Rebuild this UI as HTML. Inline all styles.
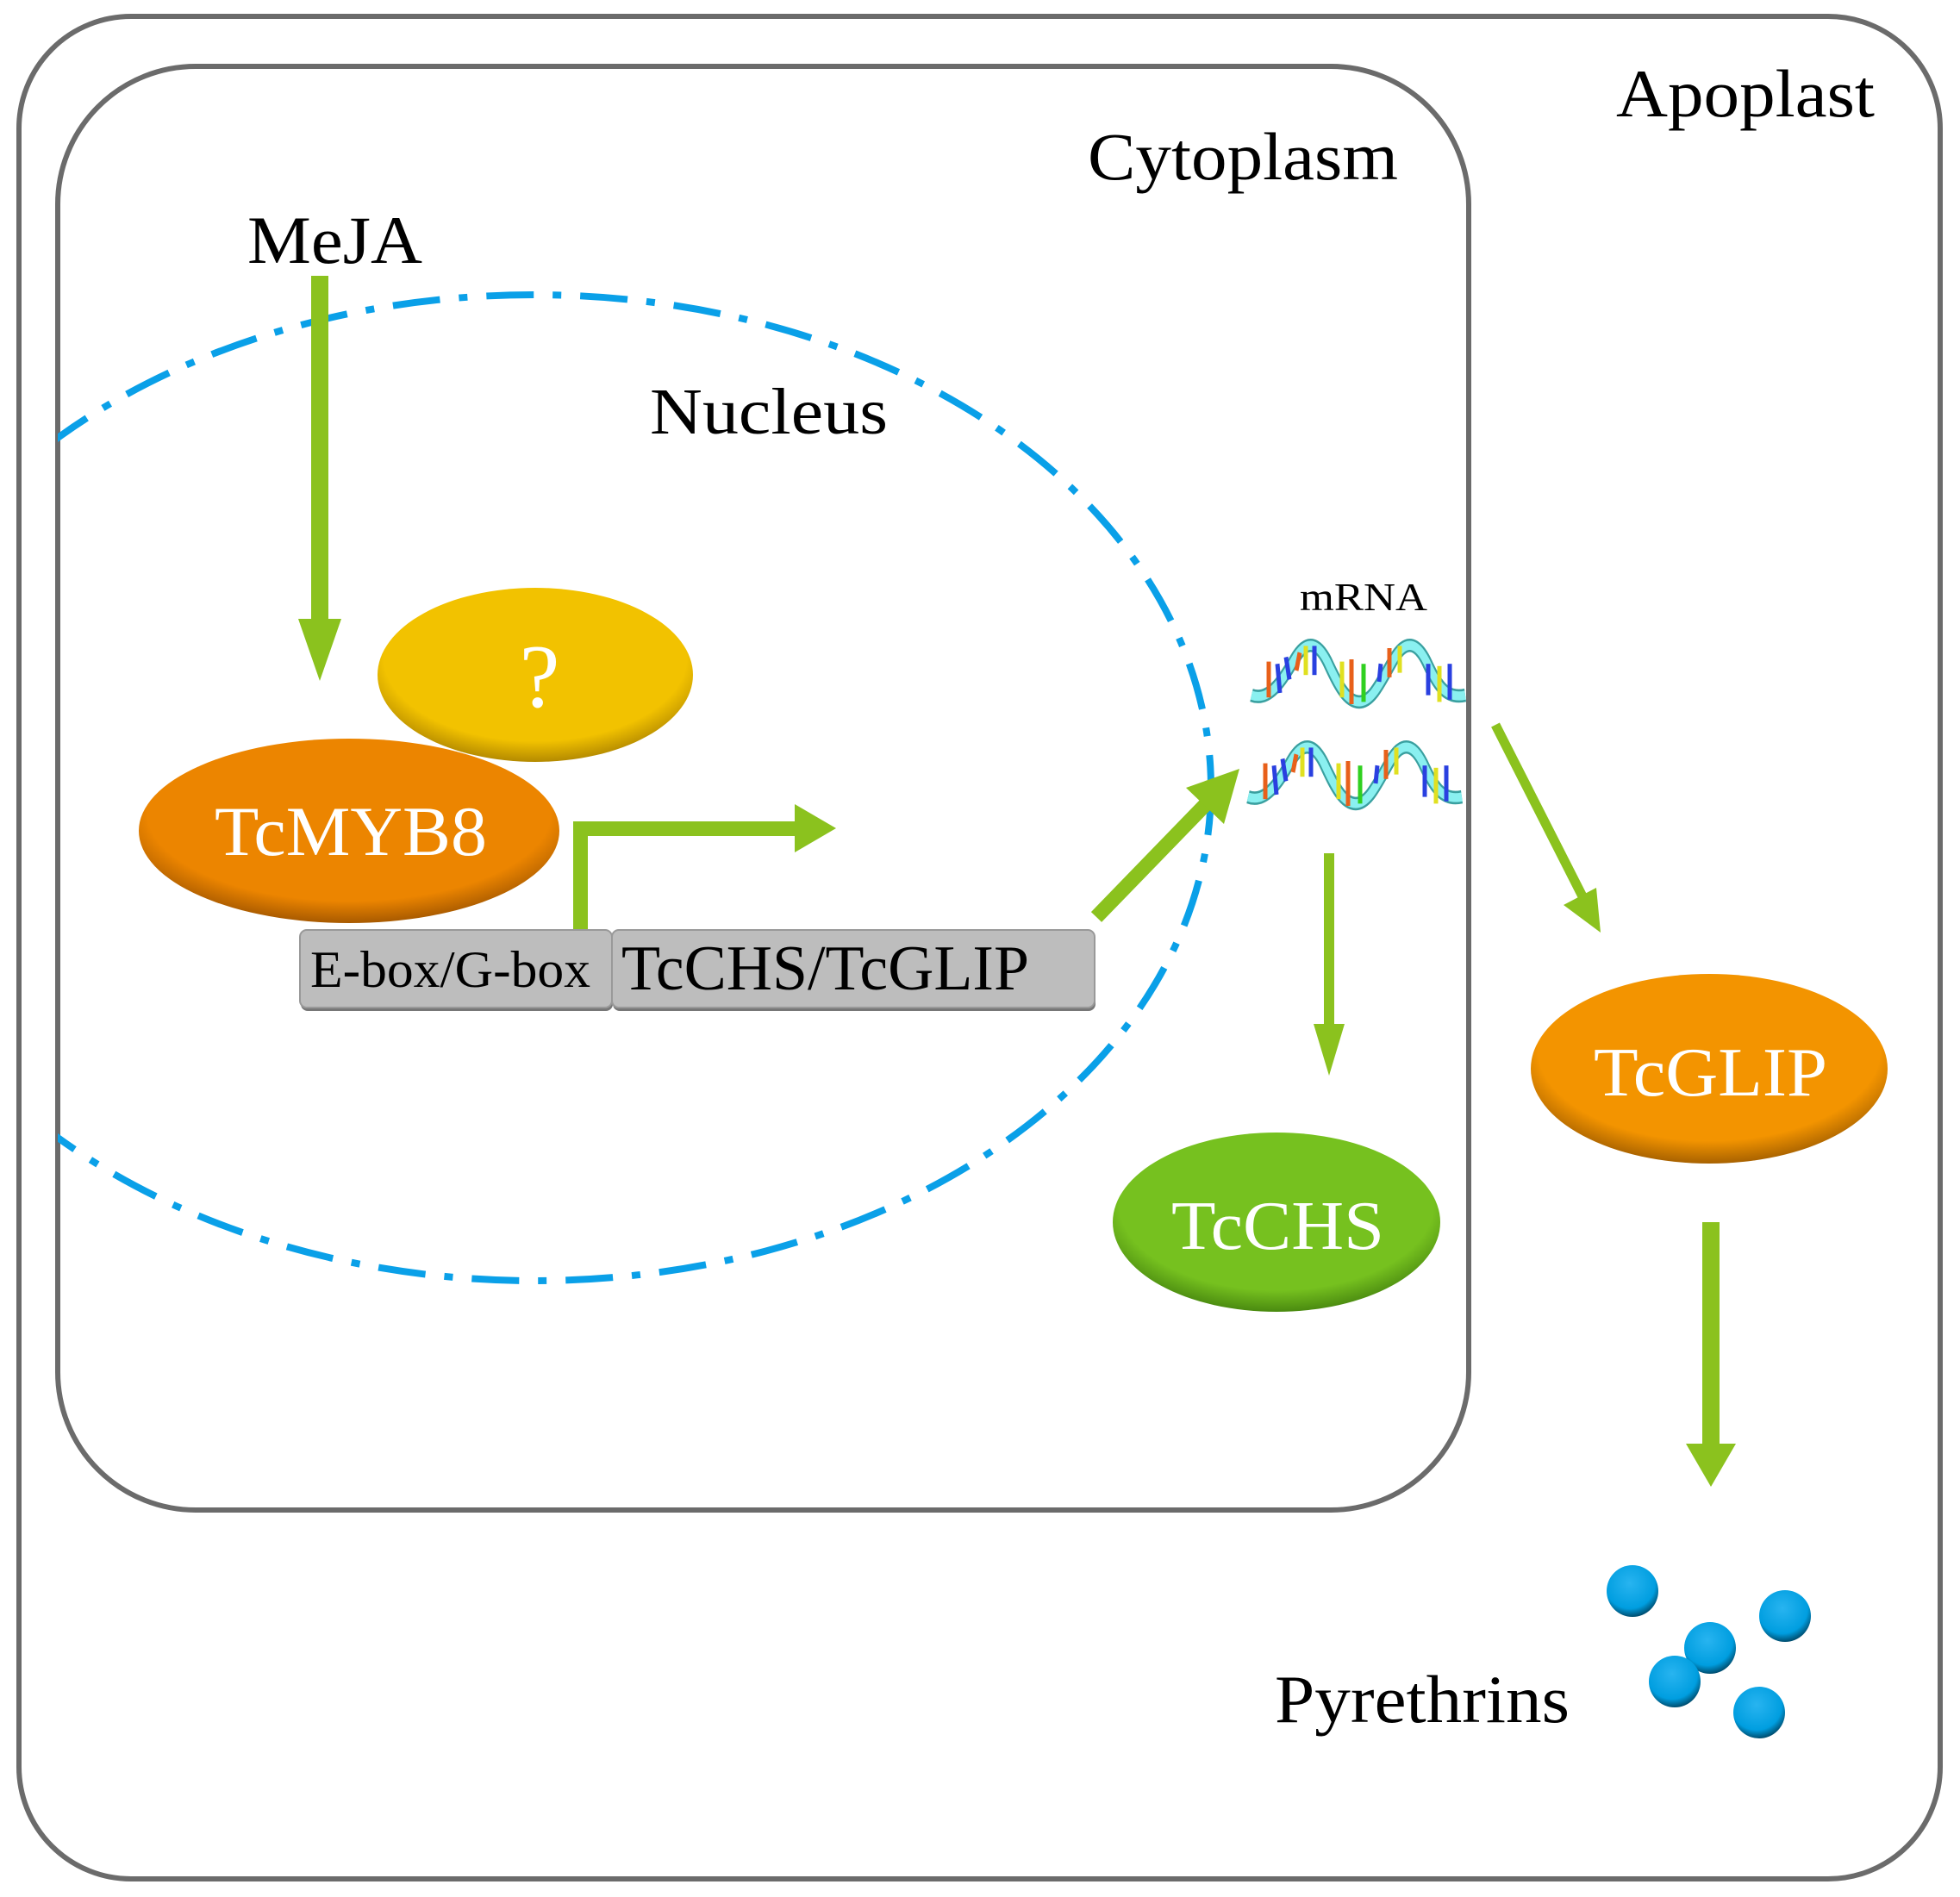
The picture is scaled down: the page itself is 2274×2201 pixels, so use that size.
<!DOCTYPE html>
<html><head><meta charset="utf-8"><style>
html,body{margin:0;padding:0;background:#fff}
svg{display:block}
text{font-family:"Liberation Serif",serif}
</style></head><body>
<svg width="2274" height="2201" viewBox="0 0 2274 2201" xmlns="http://www.w3.org/2000/svg">
<defs>
<radialGradient id="gy" cx="50%" cy="40%" r="60%"><stop offset="80%" stop-color="#f2c200"/><stop offset="100%" stop-color="#b48a00"/></radialGradient>
<radialGradient id="go" cx="50%" cy="40%" r="60%"><stop offset="80%" stop-color="#ec8500"/><stop offset="100%" stop-color="#a85a00"/></radialGradient>
<radialGradient id="go2" cx="50%" cy="40%" r="60%"><stop offset="80%" stop-color="#f39400"/><stop offset="100%" stop-color="#a86200"/></radialGradient>
<radialGradient id="gg" cx="50%" cy="40%" r="60%"><stop offset="80%" stop-color="#76c11f"/><stop offset="100%" stop-color="#4a8a10"/></radialGradient>
<radialGradient id="gb" cx="45%" cy="35%" r="65%"><stop offset="0%" stop-color="#28b4f0"/><stop offset="75%" stop-color="#009ee0"/><stop offset="100%" stop-color="#004e70"/></radialGradient>
<clipPath id="cc"><rect x="67" y="77" width="1637" height="1675" rx="160"/></clipPath>
<g id="helix">
  <path d="M0,42 C20,48 35,30 50,10 C62,-6 75,-8 88,12 C100,32 110,48 125,48 C140,48 150,30 165,10 C177,-6 190,-8 203,12 C215,32 225,46 248,42" fill="none" stroke="#3aa0a0" stroke-width="12"/>
  <path d="M0,42 C20,48 35,30 50,10 C62,-6 75,-8 88,12 C100,32 110,48 125,48 C140,48 150,30 165,10 C177,-6 190,-8 203,12 C215,32 225,46 248,42" fill="none" stroke="#8af0f0" stroke-width="8"/>
  <g stroke-width="5">
  <line x1="20" y1="44" x2="20" y2="12" stroke="#e8601a"/>
  <line x1="33" y1="40" x2="30" y2="14" stroke="#2a40e0"/>
  <line x1="44" y1="28" x2="40" y2="8" stroke="#2a40e0"/>
  <line x1="52" y1="20" x2="56" y2="4" stroke="#e8601a"/>
  <line x1="63" y1="24" x2="63" y2="-2" stroke="#e0e020"/>
  <line x1="73" y1="24" x2="73" y2="-2" stroke="#2a40e0"/>
  <line x1="105" y1="44" x2="105" y2="12" stroke="#e0e020"/>
  <line x1="116" y1="50" x2="116" y2="10" stroke="#e8601a"/>
  <line x1="130" y1="48" x2="130" y2="14" stroke="#30d020"/>
  <line x1="148" y1="30" x2="150" y2="14" stroke="#2a40e0"/>
  <line x1="160" y1="26" x2="160" y2="0" stroke="#e8601a"/>
  <line x1="172" y1="22" x2="172" y2="-2" stroke="#e0e020"/>
  <line x1="205" y1="42" x2="205" y2="14" stroke="#2a40e0"/>
  <line x1="218" y1="48" x2="218" y2="16" stroke="#e0e020"/>
  <line x1="230" y1="46" x2="230" y2="14" stroke="#2a40e0"/>
  </g>
</g>
</defs>

<rect x="22" y="19" width="2229" height="2161" rx="130" fill="none" stroke="#6b6b6b" stroke-width="6"/>
<rect x="67" y="77" width="1637" height="1675" rx="160" fill="none" stroke="#6b6b6b" stroke-width="6"/>

<text x="1875" y="135" font-size="78" textLength="300" lengthAdjust="spacingAndGlyphs">Apoplast</text>
<text x="1262" y="208" font-size="78" textLength="360" lengthAdjust="spacingAndGlyphs">Cytoplasm</text>
<text x="287" y="305" font-size="78" textLength="203" lengthAdjust="spacingAndGlyphs">MeJA</text>
<text x="754" y="503" font-size="76" textLength="276" lengthAdjust="spacingAndGlyphs">Nucleus</text>

<g clip-path="url(#cc)">
<ellipse cx="620" cy="914" rx="785" ry="572" fill="none" stroke="#0aa0e8" stroke-width="8" stroke-dasharray="55 22 10 22"/>
</g>

<!-- MeJA arrow -->
<rect x="361" y="320" width="20" height="400" fill="#8bc21e"/>
<polygon points="346,718 396,718 371,790" fill="#8bc21e"/>

<ellipse cx="621" cy="783" rx="183" ry="101" fill="url(#gy)"/>
<text x="626" y="820" font-size="105" fill="#fff" text-anchor="middle">?</text>

<ellipse cx="405" cy="964" rx="244" ry="107" fill="url(#go)"/>
<text x="249" y="992" font-size="82" fill="#fff" textLength="316" lengthAdjust="spacingAndGlyphs">TcMYB8</text>

<!-- bent arrow -->
<rect x="665" y="953" width="17" height="128" fill="#8bc21e"/>
<rect x="665" y="953" width="262" height="17" fill="#8bc21e"/>
<polygon points="922,933 970,961 922,989" fill="#8bc21e"/>

<!-- gene bar -->
<rect x="349" y="1083" width="362" height="90" rx="8" fill="#777"/>
<rect x="711" y="1083" width="560" height="90" rx="8" fill="#777"/>
<rect x="348" y="1079" width="362" height="90" rx="8" fill="#bdbdbd" stroke="#999" stroke-width="2"/>
<rect x="710" y="1079" width="560" height="90" rx="8" fill="#bdbdbd" stroke="#999" stroke-width="2"/>
<text x="360" y="1145" font-size="60" textLength="325" lengthAdjust="spacingAndGlyphs">E-box/G-box</text>
<text x="721" y="1148" font-size="74" textLength="473" lengthAdjust="spacingAndGlyphs">TcCHS/TcGLIP</text>

<!-- diagonal arrow to mRNA -->
<line x1="1272" y1="1064" x2="1400" y2="932" stroke="#8bc21e" stroke-width="17"/>
<polygon points="1376,914 1420,956 1438,892" fill="#8bc21e"/>

<text x="1508" y="708" font-size="46" textLength="148" lengthAdjust="spacingAndGlyphs">mRNA</text>
<use href="#helix" transform="translate(1452,752) scale(1,1.3)"/>
<use href="#helix" transform="translate(1448,870) scale(1,1.3)"/>

<!-- arrow to TcCHS -->
<rect x="1536" y="990" width="12" height="200" fill="#8bc21e"/>
<polygon points="1524,1188 1560,1188 1542,1248" fill="#8bc21e"/>

<!-- arrow to TcGLIP -->
<line x1="1735" y1="841" x2="1836" y2="1040" stroke="#8bc21e" stroke-width="11"/>
<polygon points="1814,1050 1852,1030 1857,1082" fill="#8bc21e"/>

<ellipse cx="1481" cy="1418" rx="190" ry="104" fill="url(#gg)"/>
<text x="1359" y="1449" font-size="80" fill="#fff" textLength="247" lengthAdjust="spacingAndGlyphs">TcCHS</text>

<ellipse cx="1983" cy="1240" rx="207" ry="110" fill="url(#go2)"/>
<text x="1849" y="1271" font-size="80" fill="#fff" textLength="271" lengthAdjust="spacingAndGlyphs">TcGLIP</text>

<!-- thick arrow -->
<rect x="1975" y="1418" width="20" height="260" fill="#8bc21e"/>
<polygon points="1956,1675 2014,1675 1985,1725" fill="#8bc21e"/>

<text x="1479" y="1998" font-size="78" textLength="342" lengthAdjust="spacingAndGlyphs">Pyrethrins</text>
<g fill="url(#gb)">
<circle cx="1894" cy="1846" r="30"/>
<circle cx="2071" cy="1875" r="30"/>
<circle cx="1984" cy="1912" r="30"/>
<circle cx="1943" cy="1951" r="30"/>
<circle cx="2041" cy="1987" r="30"/>
</g>
</svg>
</body></html>
